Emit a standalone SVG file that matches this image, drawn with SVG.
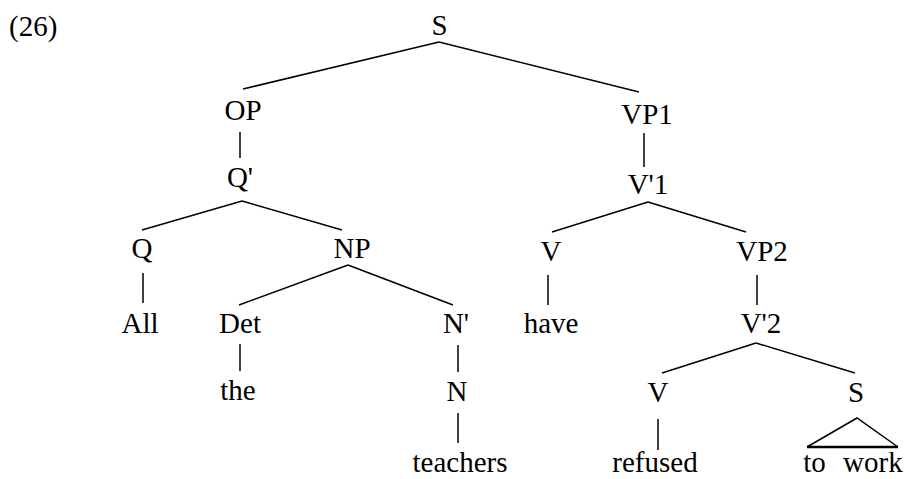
<svg xmlns="http://www.w3.org/2000/svg" width="905" height="479" viewBox="0 0 905 479">
<style>
text{font-family:"Liberation Serif","Times New Roman",serif;font-size:29px;fill:#000;text-anchor:middle}
.e{stroke:#000;stroke-width:1.5;fill:none}
.tri{stroke:#000;stroke-width:1.5;fill:none}
</style>
<rect width="905" height="479" fill="#fff"/>
<text x="9" y="36" style="text-anchor:start">(26)</text>
<g id="connectors">
<line class="e" x1="439" y1="42" x2="243" y2="89"/>
<line class="e" x1="439" y1="42" x2="639" y2="92"/>
<line class="e" x1="240" y1="132" x2="240" y2="158"/>
<line class="e" x1="242" y1="201" x2="142" y2="230"/>
<line class="e" x1="242" y1="201" x2="342" y2="230"/>
<line class="e" x1="143" y1="273" x2="143" y2="303"/>
<line class="e" x1="348" y1="265" x2="239" y2="305"/>
<line class="e" x1="348" y1="265" x2="453" y2="305"/>
<line class="e" x1="240" y1="344" x2="240" y2="371"/>
<line class="e" x1="458" y1="345" x2="458" y2="372"/>
<line class="e" x1="458" y1="413" x2="458" y2="443"/>
<line class="e" x1="644" y1="133" x2="644" y2="167"/>
<line class="e" x1="648" y1="202" x2="552" y2="232"/>
<line class="e" x1="648" y1="202" x2="746" y2="232"/>
<line class="e" x1="548" y1="275" x2="548" y2="305"/>
<line class="e" x1="757" y1="275" x2="757" y2="305"/>
<line class="e" x1="756" y1="343" x2="662" y2="373"/>
<line class="e" x1="756" y1="343" x2="855" y2="373"/>
<line class="e" x1="658" y1="419" x2="658" y2="450"/>
<polyline class="tri" points="807,447 857,418 898,447"/>
<line x1="807" y1="447" x2="898" y2="447" stroke="#000" stroke-width="2.5"/>
</g>
<g id="n-S"><text x="439.5" y="35">S</text></g>
<g id="n-OP"><text x="243" y="120">OP</text></g>
<g id="n-VP1"><text x="647" y="124">VP1</text></g>
<g id="n-Qbar"><text x="240" y="187">Q'</text></g>
<g id="n-Vbar1"><text x="648" y="194">V'1</text></g>
<g id="n-Q"><text x="142" y="258">Q</text></g>
<g id="n-NP"><text x="352" y="258">NP</text></g>
<g id="n-V1"><text x="551" y="261">V</text></g>
<g id="n-VP2"><text x="762" y="261">VP2</text></g>
<g id="n-All"><text x="140" y="333">All</text></g>
<g id="n-Det"><text x="240" y="333">Det</text></g>
<g id="n-Nbar"><text x="456" y="333">N'</text></g>
<g id="n-have"><text x="551" y="333">have</text></g>
<g id="n-Vbar2"><text x="761" y="333">V'2</text></g>
<g id="n-the"><text x="238" y="400">the</text></g>
<g id="n-N"><text x="457" y="401">N</text></g>
<g id="n-V2"><text x="658" y="402">V</text></g>
<g id="n-S2"><text x="856" y="402">S</text></g>
<g id="n-teachers"><text x="460" y="472">teachers</text></g>
<g id="n-refused"><text x="655" y="472">refused</text></g>
<g id="n-towork"><text x="853" y="472" word-spacing="10">to work</text></g>
</svg>
